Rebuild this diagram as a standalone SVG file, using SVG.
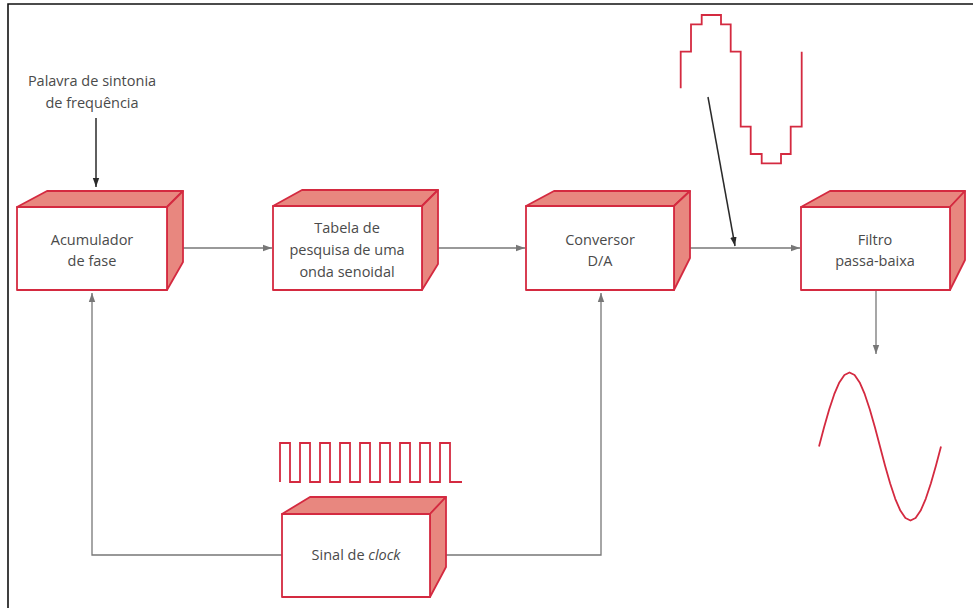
<svg xmlns="http://www.w3.org/2000/svg" width="973" height="608" viewBox="0 0 973 608">
<style>
  .front{fill:#ffffff;stroke:#d42a40;stroke-width:1.8;stroke-linejoin:round}
  .side{fill:#e8877f;stroke:#d42a40;stroke-width:1.8;stroke-linejoin:round}
  .lbl{font-family:"Open Sans","Liberation Sans",sans-serif;font-size:14.5px;fill:#4a4a4a;text-anchor:middle}
  .conn{fill:none;stroke:#777777;stroke-width:1.3}
  .ptr{fill:none;stroke:#2a2a2a;stroke-width:1.5}
  .wave{fill:none;stroke:#d42a40;stroke-width:1.8;stroke-linejoin:miter}
</style>
<defs>
  <marker id="ag" markerWidth="10" markerHeight="8" refX="9" refY="4" orient="auto" markerUnits="userSpaceOnUse">
    <path d="M0,0.8 L9,4 L0,7.2 Z" fill="#777777"/>
  </marker>
  <marker id="ab" markerWidth="10" markerHeight="8" refX="9" refY="4" orient="auto" markerUnits="userSpaceOnUse">
    <path d="M0,0.8 L9,4 L0,7.2 Z" fill="#2a2a2a"/>
  </marker>
</defs>
<rect width="973" height="608" fill="#ffffff"/>
<path d="M8,608 V4 H973" fill="none" stroke="#111111" stroke-width="1.6"/>

<g id="connectors">
  <line class="ptr" x1="96" y1="118" x2="96" y2="187" marker-end="url(#ab)"/>
  <line class="conn" x1="173" y1="248" x2="272" y2="248" marker-end="url(#ag)"/>
  <line class="conn" x1="428" y1="248" x2="525" y2="248" marker-end="url(#ag)"/>
  <line class="conn" x1="682" y1="248" x2="800" y2="248" marker-end="url(#ag)"/>
  <line class="conn" x1="876" y1="290" x2="876" y2="354" marker-end="url(#ag)"/>
  <polyline class="conn" points="282,555 92,555 92,293" marker-end="url(#ag)"/>
  <polyline class="conn" points="437,555 601,555 601,293" marker-end="url(#ag)"/>
  <line class="ptr" x1="708" y1="97" x2="735" y2="246" marker-end="url(#ab)"/>
</g>

<g id="staircase">
  <polyline class="wave" points="680.7,88.3 680.7,51.7 691,51.7 691,24.3 701.7,24.3 701.7,15 721,15 721,24.3 730.7,24.3 730.7,51.7 740.7,51.7 740.7,126.7 750.7,126.7 750.7,154 761.7,154 761.7,163.3 781,163.3 781,154 790.7,154 790.7,126.7 801.7,126.7 801.7,51.7"/>
</g>

<g id="clockwave">
  <polyline class="wave" points="280,482 280,443 290,443 290,482 300,482 300,443 310,443 310,482 320,482 320,443 330,443 330,482 340,482 340,443 350,443 350,482 360,482 360,443 370,443 370,482 380,482 380,443 390,443 390,482 400,482 400,443 410,443 410,482 420,482 420,443 430,443 430,482 440,482 440,443 450,443 450,482 462,482"/>
</g>

<g id="sinewave">
  <polyline class="wave" style="stroke-linejoin:round" points="819,446.5 824.08,427.35 829.17,409.5 834.25,394.17 839.33,382.42 844.42,375.02 849.5,372.5 854.58,375.02 859.67,382.42 864.75,394.17 869.83,409.5 874.92,427.35 880,446.5 885.08,465.65 890.17,483.5 895.25,498.83 900.33,510.58 905.42,517.98 910.5,520.5 915.58,517.98 920.67,510.58 925.75,498.83 930.83,483.5 935.92,465.65 941,446.5"/>
</g>

<g id="input-label">
  <text class="lbl" x="92" y="86">Palavra de sintonia</text>
  <text class="lbl" x="92" y="108">de frequência</text>
</g>

<g id="acumulador">
  <polygon class="side" points="17,207 47,191 183,191 167,207"/>
  <polygon class="side" points="167,207 183,191 183,262 167,290"/>
  <rect class="front" x="17" y="207" width="150" height="83"/>
  <text class="lbl" x="92" y="245">Acumulador</text>
  <text class="lbl" x="92" y="266">de fase</text>
</g>

<g id="tabela">
  <polygon class="side" points="273,206 302,190 438,190 422,206"/>
  <polygon class="side" points="422,206 438,190 438,264 422,290"/>
  <rect class="front" x="273" y="206" width="149" height="84"/>
  <text class="lbl" x="347" y="233">Tabela de</text>
  <text class="lbl" x="347" y="255">pesquisa de uma</text>
  <text class="lbl" x="347" y="277">onda senoidal</text>
</g>

<g id="conversor">
  <polygon class="side" points="526,206 554,191 690,191 674,206"/>
  <polygon class="side" points="674,206 690,191 690,258 674,290"/>
  <rect class="front" x="526" y="206" width="148" height="84"/>
  <text class="lbl" x="600" y="245">Conversor</text>
  <text class="lbl" x="600" y="266">D/A</text>
</g>

<g id="filtro">
  <polygon class="side" points="801,207 830,191 965,191 950,207"/>
  <polygon class="side" points="950,207 965,191 965,260 950,290"/>
  <rect class="front" x="801" y="207" width="149" height="83"/>
  <text class="lbl" x="875" y="245">Filtro</text>
  <text class="lbl" x="875" y="266">passa-baixa</text>
</g>

<g id="clock">
  <polygon class="side" points="282,514 310,497 446,497 430,514"/>
  <polygon class="side" points="430,514 446,497 446,567 430,597"/>
  <rect class="front" x="282" y="514" width="148" height="83"/>
  <text class="lbl" x="356" y="560">Sinal de <tspan font-style="italic">clock</tspan></text>
</g>
</svg>
